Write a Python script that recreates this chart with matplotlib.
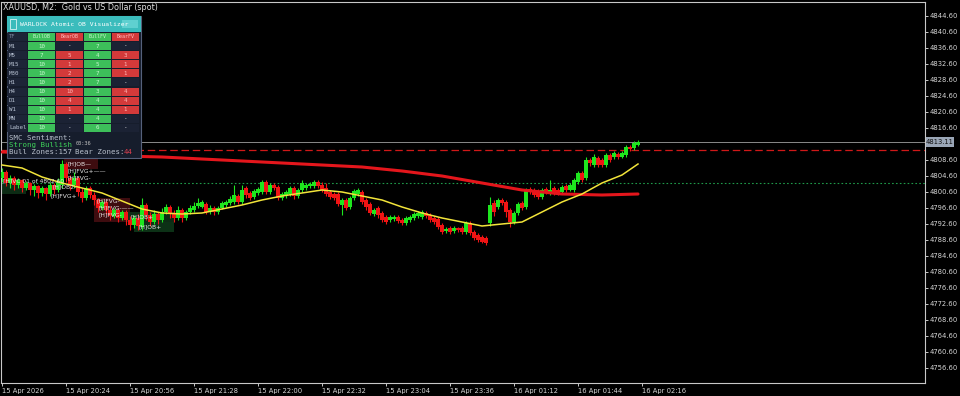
import matplotlib
matplotlib.use('Agg')
import matplotlib.pyplot as plt
from matplotlib.patches import Rectangle

# ---------------- data ----------------
opens = [4804.10, 4805.60, 4802.85, 4804.10, 4802.35, 4803.60, 4801.60, 4802.85, 4801.10, 4802.10,
         4800.35, 4801.60, 4800.10, 4802.35, 4801.10, 4802.35, 4807.60, 4804.10, 4802.35, 4804.10,
         4800.60, 4799.10, 4801.60, 4799.85, 4798.60, 4796.60, 4798.10, 4796.10, 4794.60, 4796.10,
         4794.10, 4795.60, 4793.60, 4792.35, 4794.10, 4791.85, 4797.35, 4794.85, 4793.10, 4795.10,
         4793.60, 4795.60, 4796.85, 4795.10, 4794.10, 4796.10, 4794.10, 4795.60, 4796.10, 4797.10,
         4796.85, 4797.60, 4795.60, 4796.60, 4795.60, 4796.60, 4797.35, 4797.85, 4798.10, 4799.60,
         4798.10, 4801.60, 4800.35, 4799.35, 4800.35, 4800.60, 4803.10, 4800.60, 4802.35, 4801.85,
         4799.10, 4799.60, 4800.10, 4801.60, 4799.60, 4801.10, 4801.60, 4802.10, 4802.10, 4803.10,
         4802.35, 4801.60, 4800.60, 4800.10, 4800.10, 4797.35, 4798.60, 4796.85, 4799.10, 4800.10,
         4800.60, 4798.60, 4797.60, 4795.10, 4796.60, 4795.35, 4794.35, 4793.60, 4793.85, 4794.35,
         4793.60, 4792.85, 4793.60, 4794.10, 4794.60, 4794.35, 4795.35, 4794.85, 4794.10, 4793.85,
         4792.35, 4790.85, 4791.60, 4790.85, 4791.60, 4791.60, 4790.60, 4792.85, 4790.60, 4789.85,
         4789.35, 4789.10, 4792.85, 4797.85, 4796.85, 4798.60, 4798.10, 4796.10, 4793.10, 4795.35,
         4797.85, 4796.85, 4801.35, 4801.10, 4800.85, 4799.35, 4801.35, 4800.35, 4801.60, 4801.10,
         4800.60, 4802.10, 4801.10, 4801.10, 4803.10, 4805.35, 4804.10, 4808.60, 4807.35, 4809.10,
         4808.60, 4807.35, 4809.85, 4809.35, 4810.10, 4809.35, 4809.85, 4811.85, 4811.60, 4812.35]
highs = [4806.60, 4806.10, 4804.85, 4804.60, 4804.10, 4803.85, 4803.35, 4803.10, 4802.60, 4802.35,
         4802.10, 4801.85, 4803.10, 4802.85, 4804.10, 4808.60, 4808.10, 4804.85, 4805.60, 4804.60,
         4801.60, 4802.10, 4802.10, 4800.60, 4799.10, 4798.60, 4798.60, 4797.10, 4796.60, 4796.60,
         4796.10, 4796.10, 4794.60, 4794.85, 4795.10, 4799.10, 4797.85, 4795.60, 4796.10, 4795.60,
         4796.60, 4797.60, 4797.35, 4796.10, 4797.10, 4796.60, 4796.10, 4797.35, 4798.10, 4799.10,
         4798.60, 4798.10, 4797.35, 4797.10, 4797.10, 4798.35, 4798.60, 4799.60, 4802.35, 4800.10,
         4802.35, 4802.10, 4800.85, 4801.35, 4801.85, 4803.60, 4803.60, 4802.85, 4802.85, 4802.35,
         4800.60, 4801.10, 4802.10, 4802.10, 4801.60, 4803.60, 4802.85, 4803.10, 4803.60, 4803.60,
         4803.10, 4802.85, 4801.10, 4800.60, 4800.60, 4799.10, 4799.10, 4799.60, 4801.35, 4801.60,
         4801.10, 4799.10, 4798.10, 4796.60, 4797.10, 4795.85, 4794.85, 4794.85, 4794.85, 4794.85,
         4794.10, 4794.60, 4794.85, 4795.60, 4795.85, 4796.10, 4795.85, 4795.35, 4794.60, 4794.35,
         4792.85, 4791.85, 4792.10, 4792.10, 4791.85, 4792.10, 4793.35, 4793.35, 4791.10, 4790.35,
         4789.85, 4789.60, 4799.35, 4798.60, 4799.10, 4799.10, 4798.60, 4796.60, 4795.85, 4798.10,
         4798.35, 4801.60, 4801.85, 4801.60, 4801.35, 4801.60, 4801.85, 4803.60, 4802.10, 4801.60,
         4802.35, 4802.60, 4802.85, 4804.10, 4805.85, 4805.85, 4809.35, 4809.10, 4810.10, 4809.60,
         4809.10, 4810.35, 4810.35, 4810.85, 4810.60, 4810.85, 4812.35, 4812.35, 4813.35, 4813.60]
lows = [4803.10, 4802.10, 4801.60, 4801.10, 4801.60, 4800.60, 4801.10, 4799.85, 4799.60, 4799.10,
        4799.60, 4798.60, 4799.60, 4800.10, 4800.60, 4801.60, 4803.10, 4801.10, 4801.60, 4799.60,
        4798.10, 4798.60, 4799.10, 4797.35, 4795.60, 4796.10, 4795.10, 4793.60, 4794.10, 4793.10,
        4793.60, 4792.35, 4791.10, 4791.60, 4791.10, 4791.10, 4793.60, 4792.10, 4792.60, 4792.60,
        4793.10, 4795.10, 4794.10, 4793.10, 4793.60, 4793.10, 4793.60, 4795.10, 4795.60, 4796.60,
        4796.60, 4795.10, 4795.10, 4794.85, 4795.10, 4796.35, 4796.85, 4797.35, 4797.60, 4797.60,
        4797.60, 4799.10, 4798.60, 4798.85, 4799.85, 4800.10, 4800.10, 4800.10, 4801.10, 4798.60,
        4798.60, 4799.10, 4799.60, 4798.85, 4799.10, 4800.60, 4801.10, 4801.60, 4801.60, 4801.60,
        4800.60, 4799.60, 4798.85, 4798.60, 4797.10, 4794.85, 4796.10, 4796.35, 4798.60, 4799.60,
        4797.60, 4796.10, 4794.85, 4794.60, 4794.10, 4793.10, 4792.60, 4793.10, 4793.35, 4792.85,
        4792.35, 4792.35, 4793.10, 4793.60, 4794.10, 4793.85, 4794.10, 4793.10, 4792.60, 4791.35,
        4790.10, 4790.35, 4790.10, 4790.35, 4790.60, 4790.10, 4790.10, 4789.85, 4788.60, 4788.10,
        4787.85, 4787.35, 4792.10, 4794.60, 4796.35, 4797.35, 4794.35, 4791.85, 4792.60, 4794.85,
        4796.10, 4796.35, 4800.10, 4799.35, 4798.85, 4798.85, 4800.10, 4799.85, 4799.85, 4799.85,
        4800.10, 4800.60, 4800.85, 4800.60, 4802.60, 4803.10, 4803.60, 4807.10, 4806.85, 4806.85,
        4806.85, 4806.85, 4808.10, 4808.85, 4808.85, 4809.10, 4809.35, 4810.85, 4811.10, 4812.10]
closes = [4805.60, 4802.85, 4804.10, 4802.35, 4803.60, 4801.60, 4802.85, 4801.10, 4802.10, 4800.35,
          4801.60, 4800.10, 4802.35, 4801.10, 4803.10, 4807.60, 4804.10, 4802.35, 4804.10, 4800.60,
          4799.10, 4801.60, 4799.85, 4798.60, 4796.60, 4798.10, 4796.10, 4794.60, 4796.10, 4794.10,
          4795.60, 4793.60, 4792.35, 4794.10, 4792.10, 4797.35, 4794.85, 4793.10, 4795.10, 4793.60,
          4795.60, 4796.85, 4795.10, 4794.10, 4796.10, 4794.10, 4795.60, 4796.60, 4797.10, 4797.85,
          4798.10, 4795.60, 4796.60, 4795.60, 4796.60, 4797.85, 4798.10, 4798.85, 4799.85, 4798.10,
          4801.10, 4799.85, 4799.10, 4800.85, 4801.35, 4803.10, 4800.60, 4802.35, 4801.60, 4799.10,
          4800.10, 4800.60, 4801.60, 4799.60, 4801.10, 4802.85, 4802.35, 4802.60, 4803.10, 4802.10,
          4801.10, 4800.10, 4799.35, 4799.10, 4797.60, 4798.60, 4796.60, 4799.10, 4800.85, 4801.10,
          4798.10, 4796.85, 4795.35, 4796.10, 4794.85, 4793.60, 4793.10, 4794.35, 4794.35, 4793.35,
          4792.85, 4794.10, 4794.35, 4795.10, 4795.35, 4795.60, 4794.60, 4793.60, 4793.10, 4791.85,
          4790.60, 4791.35, 4790.60, 4791.60, 4791.10, 4790.60, 4792.85, 4790.35, 4789.10, 4788.60,
          4788.10, 4787.85, 4797.35, 4795.60, 4798.60, 4797.85, 4795.60, 4793.10, 4795.35, 4797.60,
          4796.60, 4801.10, 4800.60, 4799.85, 4799.35, 4801.10, 4800.60, 4801.10, 4800.35, 4800.35,
          4801.85, 4801.10, 4802.35, 4803.60, 4805.35, 4803.60, 4808.60, 4807.85, 4809.35, 4807.35,
          4807.35, 4809.85, 4808.60, 4810.35, 4809.35, 4810.35, 4811.85, 4811.35, 4812.85, 4813.11]

ma_fast_idx = [0, 5, 10, 15, 20, 25, 30, 35, 40, 45, 50, 55, 60, 65, 70, 75, 80, 85, 90, 95,
               100, 105, 110, 115, 120, 125, 130, 135, 140, 145, 150, 155, 159]
ma_fast = [4807.35, 4806.60, 4804.35, 4802.85, 4801.60, 4800.35, 4798.35, 4796.35, 4795.35, 4795.10,
           4795.35, 4796.35, 4797.35, 4798.60, 4799.60, 4800.35, 4801.10, 4800.60, 4799.60, 4798.60,
           4796.85, 4795.35, 4794.10, 4793.10, 4792.10, 4792.60, 4793.10, 4795.60, 4798.10, 4800.10,
           4802.85, 4804.85, 4807.60]
ma_slow_idx = [0, 10, 20, 30, 40, 50, 60, 70, 80, 90, 100, 110, 120, 130, 140, 150, 159]
ma_slow = [4810.60, 4810.35, 4810.10, 4809.60, 4809.35, 4808.85, 4808.35, 4807.85, 4807.35, 4806.85,
           4805.85, 4804.60, 4802.85, 4801.10, 4800.10, 4799.85, 4800.10]

level_bid = 4813.11
level_resist = 4811.10
level_support = 4802.85

y_ticks = [4756.60, 4760.60, 4764.60, 4768.60, 4772.60, 4776.60, 4780.60, 4784.60, 4788.60,
           4792.60, 4796.60, 4800.60, 4804.60, 4808.60, 4812.60, 4816.60, 4820.60, 4824.60,
           4828.60, 4832.60, 4836.60, 4840.60, 4844.60]
x_tick_idx = [0, 16, 32, 48, 64, 80, 96, 112, 128, 144, 160]
x_tick_labels = ['15 Apr 2026', '15 Apr 20:24', '15 Apr 20:56', '15 Apr 21:28', '15 Apr 22:00',
                 '15 Apr 22:32', '15 Apr 23:04', '15 Apr 23:36', '16 Apr 01:12', '16 Apr 01:44',
                 '16 Apr 02:16']

tf_rows = ['M1', 'M5', 'M15', 'M30', 'H1', 'H4', 'D1', 'W1', 'MN', 'Label']
col_heads = ['BullOB', 'BearOB', 'BullFV', 'BearFV']
bull_ob = ['10', '7', '10', '10', '10', '10', '10', '10', '10', '10']
bear_ob = ['-', '5', '1', '2', '2', '10', '4', '1', '-', '-']
bull_fv = ['7', '4', '5', '7', '7', '3', '4', '4', '4', '6']
bear_fv = ['-', '3', '1', '1', '-', '4', '4', '1', '-', '-']

# ---------------- figure ----------------
W, H = 960, 396
fig = plt.figure(figsize=(W / 100, H / 100), dpi=100, facecolor='black')
ax = fig.add_axes([1 / W, 13 / H, 924 / W, 381 / H], facecolor='black')
Y_LO, Y_HI = 4752.85, 4848.10
ax.set_xlim(-0.25, 230.75)
ax.set_ylim(Y_LO, Y_HI)

GREEN = '#1ee61e'
RED = '#f01414'
for i, (o, h, l, c) in enumerate(zip(opens, highs, lows, closes)):
    col = GREEN if c >= o else RED
    ax.vlines(i, l, h, color=col, lw=0.8, zorder=3)
    b = min(o, c)
    hh = max(abs(c - o), 0.12)
    ax.add_patch(Rectangle((i - 0.38, b), 0.76, hh, fc=col, ec='none', zorder=4))

ax.plot(ma_slow_idx, ma_slow, color='#e4161c', lw=2.2, zorder=5, solid_capstyle='round')
ax.plot(ma_fast_idx, ma_fast, color='#f2e43a', lw=1.1, zorder=6)

ax.axhline(level_bid, color='#8a8a8a', lw=0.7, zorder=2)
ax.axhline(level_resist, color='#d01818', lw=0.9, ls=(0, (6, 3)), zorder=2)
ax.axhline(level_support, color='#1f9a4a', lw=0.8, ls=(0, (1.5, 2)), zorder=2)

# SMC zone labels
zones = [
    (15.5, 24.0, 4806.3, 4808.9, '#4a0f12'),
    (-0.25, 6.0, 4800.1, 4802.6, '#0f3318'),
    (23.0, 32.0, 4793.1, 4799.1, '#4a0f12'),
    (31.0, 43.0, 4793.1, 4795.6, '#0f3318'),
    (33.0, 43.0, 4790.6, 4793.1, '#0f3a1a'),
]
for x0, x1, y0, y1, fc in zones:
    ax.add_patch(Rectangle((x0, y0), x1 - x0, y1 - y0, fc=fc, ec='none', alpha=0.85, zorder=1))
zone_texts = [
    (16.3, 4807.6, '[H]OB—'), (16.3, 4805.8, '[H]FVG+——'), (16.3, 4804.2, '[H]FVG-'),
    (0.3, 4803.4, '[H]VC 01 of 4802.60'), (12.5, 4801.9, '[H]OB2-'),
    (12.0, 4799.6, '[H]FVG+'), (23.6, 4798.3, '[H]FVG-'), (24.2, 4796.6, '[H]FVG-——'),
    (24.2, 4794.8, '[H]FVG-'), (32.0, 4794.3, '[H]OB+'), (34.0, 4791.9, '[H]OB+'),
]
for xi, yp, t in zone_texts:
    ax.text(xi, yp, t, color='#e6e6e6', fontsize=4.3, va='center', ha='left', zorder=7)

# axes styling
for s in ax.spines.values():
    s.set_color('#c8c8c8')
    s.set_linewidth(0.8)
ax.yaxis.tick_right()
ax.set_yticks(y_ticks)
# the label at the bid level is hidden behind the price box in the reference
ax.set_yticklabels(['' if abs(v - level_bid) < 1.0 else f'{v:.2f}' for v in y_ticks])
ax.set_xticks(x_tick_idx)
ax.set_xticklabels(x_tick_labels, ha='left')
ax.tick_params(axis='both', colors='#c8c8c8', labelcolor='#d6d6d6', labelsize=4.9,
               length=2.5, width=0.7, direction='out', pad=0.8)
ax.tick_params(axis='x', pad=1.2)

# ---------------- overlay (title + panel + price box) ----------------
ov = fig.add_axes([0, 0, 1, 1], facecolor='none')
ov.set_xlim(0, W)
ov.set_ylim(H, 0)
ov.axis('off')
ov.set_zorder(10)

# current price box on the price scale
ax_top_px, ax_bot_px = 2, 383
box_y = ax_top_px + (Y_HI - level_bid) / (Y_HI - Y_LO) * (ax_bot_px - ax_top_px)
ov.add_patch(Rectangle((926, box_y - 5), 28, 10, fc='#9aa6b6', ec='none', zorder=5))
ov.text(940, box_y, f'{level_bid:.2f}', fontsize=4.9, color='#101010', va='center',
        ha='center', zorder=6)

ov.text(3, 7, 'XAUUSD, M2:  Gold vs US Dollar (spot)', color='#e0e0e0', fontsize=5.8,
        va='center', ha='left')

MONO = 'DejaVu Sans Mono'
ov.add_patch(Rectangle((7, 16), 134, 142, fc='#161d2c', ec='#55607a', lw=0.8))
ov.add_patch(Rectangle((7, 16), 134, 16, fc='#3bbcbc', ec='none'))
ov.add_patch(Rectangle((10, 19), 6, 10, fc='#3bbcbc', ec='#d8f4f4', lw=0.6))
ov.add_patch(Rectangle((122, 20), 16, 8, fc='#5fd0d0', ec='none'))
ov.text(20, 24.5, 'WARLOCK Atomic OB Visualizer', color='white', fontsize=4.6,
        family=MONO, va='center', ha='left')

CG, CR, CE, CT = '#3dbf5a', '#d33a3a', '#1b2234', '#1d2537'
cols_x = [(28, 27), (56, 27), (84, 27), (112, 27)]
head_cols = [CG, CR, CG, CR]
ov.add_patch(Rectangle((7, 33), 20, 8, fc=CT, ec='none'))
ov.text(9, 37, 'TF', color='#7d8aa0', fontsize=4, family=MONO, va='center')
for (x0, w), fc, t in zip(cols_x, head_cols, col_heads):
    ov.add_patch(Rectangle((x0, 33), w, 8, fc=fc, ec='none'))
    tc = '#c6f5cf' if fc == CG else '#ffc0c0'
    ov.text(x0 + w / 2, 37, t, color=tc, fontsize=3.6, family=MONO, va='center', ha='center')

for r, tf in enumerate(tf_rows):
    y0 = 42 + r * 9.1
    ov.add_patch(Rectangle((7, y0), 20, 8, fc=CT, ec='none'))
    ov.text(9, y0 + 4, tf, color='#b8c2d2', fontsize=4.2, family=MONO, va='center')
    vals = [bull_ob[r], bear_ob[r], bull_fv[r], bear_fv[r]]
    for k, ((x0, w), v) in enumerate(zip(cols_x, vals)):
        if v == '-':
            fc, tc = CE, '#e0e0e0'
        else:
            fc = head_cols[k]
            tc = '#c6f5cf' if fc == CG else '#ffb8b8'
        ov.add_patch(Rectangle((x0, y0), w, 8, fc=fc, ec='none'))
        ov.text(x0 + w / 2, y0 + 4, v, color=tc, fontsize=4.2, family=MONO,
                va='center', ha='center')

ov.text(9, 137.5, 'SMC Sentiment:', color='#b8c0cc', fontsize=5.3, family=MONO, va='center')
ov.text(9, 144.5, 'Strong Bullish', color='#3ed35a', fontsize=5.3, family=MONO, va='center')
ov.text(76, 143.5, '00:36', color='#c0c0c0', fontsize=3.8, family=MONO, va='center')
ov.text(9, 151.5, 'Bull Zones:157', color='#b8c0cc', fontsize=5.3, family=MONO, va='center')
ov.text(75, 151.5, 'Bear Zones:', color='#b8c0cc', fontsize=5.3, family=MONO, va='center')
ov.text(124, 151.5, '44', color='#e0404f', fontsize=5.3, family=MONO, va='center')

fig.savefig('out.png', dpi=100, facecolor='black')
